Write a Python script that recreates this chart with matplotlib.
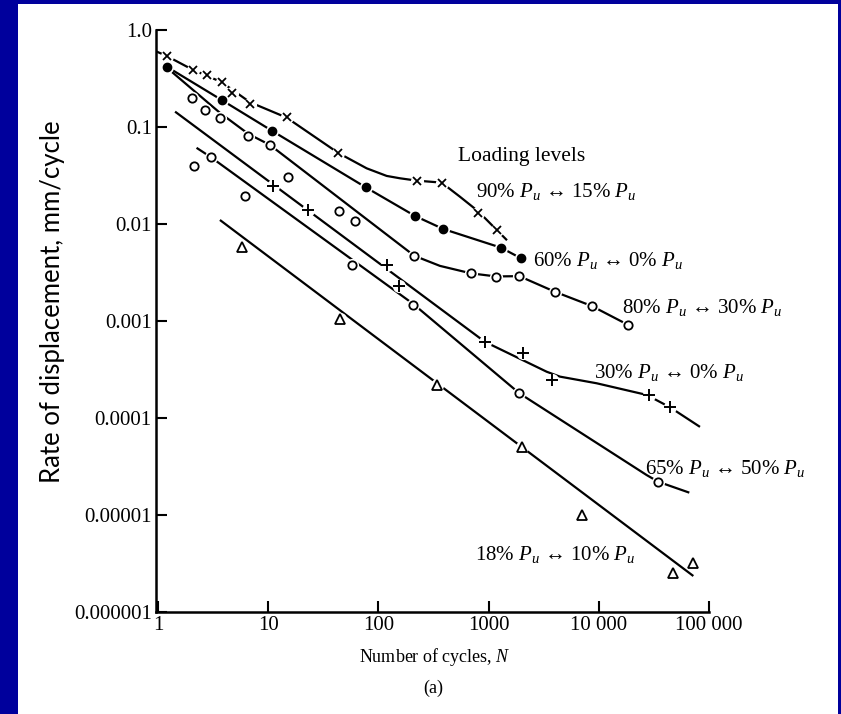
import matplotlib
matplotlib.use("Agg")
import matplotlib.pyplot as plt
from matplotlib.patches import Rectangle

plt.rcParams['font.family'] = ['Liberation Serif', 'DejaVu Serif']
plt.rcParams['mathtext.fontset'] = 'custom'
plt.rcParams['mathtext.rm'] = 'Liberation Serif'
plt.rcParams['mathtext.it'] = 'Liberation Serif:italic'

# ---- data ----
# 90% Pu <-> 15% Pu  (x markers)
a_n = [1.20, 2.06, 2.78, 3.78, 4.66, 6.84, 14.7, 43.3, 223, 375, 806, 1183]
a_r = [0.539, 0.387, 0.344, 0.293, 0.226, 0.173, 0.126, 0.0536, 0.0277, 0.0267, 0.0131, 0.00867]
a_curve_n = [0.97, 1.20, 2.06, 3.78, 6.84, 14.7, 43.3, 78.3, 119, 157, 223, 375, 550, 806, 1183, 1469]
a_curve_r = [0.60, 0.54, 0.39, 0.29, 0.18, 0.125, 0.054, 0.0375, 0.0313, 0.0296, 0.0280, 0.0267,
             0.0191, 0.0135, 0.0087, 0.0068]

# 60% Pu <-> 0% Pu  (filled dots)
b_n = [1.20, 3.78, 10.8, 76.7, 215, 388, 1297, 1968]
b_r = [0.419, 0.190, 0.0916, 0.0239, 0.0121, 0.00888, 0.00570, 0.00443]
b_curve_n = [1.20, 3.78, 10.8, 76.7, 215, 388, 1297, 1968]
b_curve_r = [0.419, 0.190, 0.0916, 0.0239, 0.0121, 0.00888, 0.00570, 0.00443]

# 80% Pu <-> 30% Pu  (open circles)
c_n = [2.02, 2.67, 3.65, 6.60, 10.4, 15.2, 44.2, 61.3, 212, 692, 1167, 1900, 4006, 8610, 18530]
c_r = [0.198, 0.150, 0.125, 0.0813, 0.0652, 0.0308, 0.0136, 0.0107, 0.00471, 0.00310,
       0.00286, 0.00293, 0.00200, 0.00143, 0.00091]
c_curve_n = [1.34, 3.65, 6.60, 10.4, 212, 362, 692, 1167, 1900, 4006, 8610, 18530]
c_curve_r = [0.369, 0.14, 0.085, 0.0652, 0.0047, 0.0037, 0.0031, 0.00288, 0.0029, 0.0020, 0.00143, 0.00091]

# 30% Pu <-> 0% Pu  (plus markers)
d_n = [11.0, 22.8, 121, 155, 926, 2039, 3738, 28710, 44280]
d_r = [0.0248, 0.0139, 0.00378, 0.00231, 0.000612, 0.000471, 0.000246, 0.000173, 0.000129]
d_curve_n = [1.43, 926, 3365, 4440, 9570, 27200, 44280, 82820]
d_curve_r = [0.144, 0.00061, 0.0003, 0.000267, 0.000228, 0.000173, 0.000129, 8.1e-5]

# 65% Pu <-> 50% Pu  (open circles)
e_n = [2.13, 3.01, 6.16, 57.3, 207, 1900, 34670]
e_r = [0.0396, 0.0494, 0.0194, 0.00378, 0.00146, 0.000180, 2.20e-5]
e_curve_n = [2.24, 3.01, 207, 1900, 27200, 34670, 66280]
e_curve_r = [0.061, 0.049, 0.0015, 0.00018, 2.58e-5, 2.2e-5, 1.7e-5]

# 18% Pu <-> 10% Pu  (triangles)
f_n = [5.75, 44.9, 338, 1997, 7000, 46880, 72100]
f_r = [0.00583, 0.00105, 0.000219, 5.06e-5, 1.0e-5, 2.51e-6, 3.18e-6]
f_curve_n = [3.65, 72100]
f_curve_r = [0.0110, 2.35e-6]

x_ticks = [1, 10, 100, 1000, 10000, 100000]
x_tick_labels = ['1', '10', '100', '1000', '10 000', '100 000']
y_ticks = [1e-6, 1e-5, 1e-4, 1e-3, 1e-2, 1e-1, 1.0]
y_tick_labels = ['0.000001', '0.00001', '0.0001', '0.001', '0.01', '0.1', '1.0']

series = [
    (a_n, a_r, a_curve_n, a_curve_r, dict(marker='x', ms=6, mew=1.3, mfc='k')),
    (b_n, b_r, b_curve_n, b_curve_r, dict(marker='o', ms=6, mew=1.0, mfc='k')),
    (c_n, c_r, c_curve_n, c_curve_r, dict(marker='o', ms=6, mew=1.3, mfc='white')),
    (d_n, d_r, d_curve_n, d_curve_r, dict(marker='+', ms=8.5, mew=1.4, mfc='k')),
    (e_n, e_r, e_curve_n, e_curve_r, dict(marker='o', ms=6, mew=1.3, mfc='white')),
    (f_n, f_r, f_curve_n, f_curve_r, dict(marker='^', ms=7.5, mew=1.3, mfc='white')),
]

fig = plt.figure(figsize=(8.41, 7.14), dpi=100, facecolor='#00009c')
# white page inside the blue slide border
fig.patches.append(Rectangle((18 / 841, 0), (838 - 18) / 841, (714 - 4) / 714,
                             transform=fig.transFigure, facecolor='white',
                             edgecolor='none', zorder=-1))

ax = fig.add_axes([156 / 841, 102 / 714, 553 / 841, 582 / 714])
ax.set_zorder(1)
ax.set_facecolor('none')
ax.set_xscale('log')
ax.set_yscale('log')

for n, r, cn, cr, style in series:
    ax.plot(cn, cr, color='k', lw=1.6, zorder=2, solid_capstyle='butt')
    # white halo gives the small gaps in the lines around each symbol
    ax.plot(n, r, ls='none', marker='o', ms=9.5, mfc='white', mec='none', zorder=3)
    ax.plot(n, r, ls='none', color='k', mec='k', zorder=4, **style)

ax.set_xlim(0.96, 1.0e5)
ax.set_ylim(1e-6, 1.0)
ax.set_xticks(x_ticks)
ax.set_xticklabels(x_tick_labels)
ax.set_yticks(y_ticks)
ax.set_yticklabels(y_tick_labels)
ax.minorticks_off()
ax.tick_params(direction='in', length=8, width=1.5, labelsize=15, pad=3)
for side in ['top', 'right']:
    ax.spines[side].set_visible(False)
for side in ['left', 'bottom']:
    ax.spines[side].set_linewidth(1.8)

# curve labels
lab_size = 15
ax.text(527, 0.0502, 'Loading levels', fontsize=15.5, va='center', ha='left')
ax.text(769, 0.0214, '90% $P_u$ \u2194 15% $P_u$', fontsize=lab_size, va='center', ha='left')
ax.text(2530, 0.00425, '60% $P_u$ \u2194 0% $P_u$', fontsize=lab_size, va='center', ha='left')
ax.text(16250, 0.00139, '80% $P_u$ \u2194 30% $P_u$', fontsize=lab_size, va='center', ha='left')
ax.text(9040, 0.000298, '30% $P_u$ \u2194 0% $P_u$', fontsize=lab_size, va='center', ha='left')
ax.text(26250, 3.05e-5, '65% $P_u$ \u2194 50% $P_u$', fontsize=lab_size, va='center', ha='left')
ax.text(753, 3.87e-6, '18% $P_u$ \u2194 10% $P_u$', fontsize=lab_size, va='center', ha='left')

fig.text(435 / 841, 1 - 657 / 714, 'Number of cycles, $N$', fontsize=13, ha='center', va='center')
fig.text(433 / 841, 1 - 688 / 714, '(a)', fontsize=13, ha='center', va='center')
fig.text(53 / 841, 1 - 302 / 714, 'Rate of displacement, mm/cycle', fontsize=18.5,
         family=['Lato', 'DejaVu Sans'], rotation=90, ha='center', va='center')

fig.savefig('out.png', dpi=100, facecolor=fig.get_facecolor())
